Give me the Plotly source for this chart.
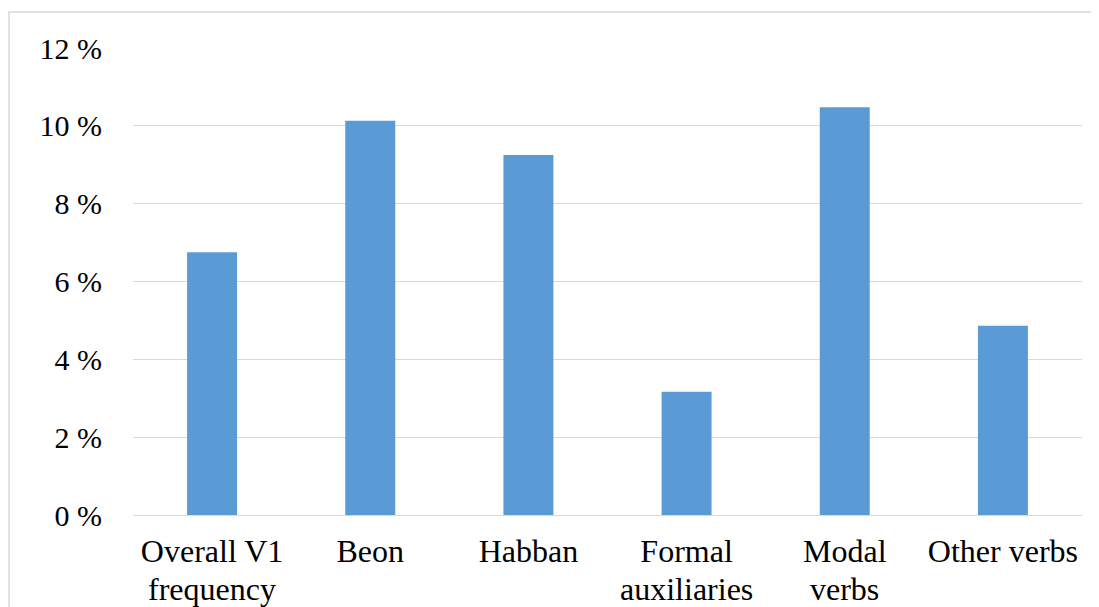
import plotly.graph_objects as go

categories = ["Overall V1<br>frequency", "Beon", "Habban", "Formal<br>auxiliaries", "Modal<br>verbs", "Other verbs"]
values = [6.75, 10.13, 9.25, 3.17, 10.48, 4.86]
y_ticks = [0, 2, 4, 6, 8, 10, 12]

# page body has an 8px margin, so the figure is drawn 8px smaller and offset
OFF = 8
W, H = 1099 - OFF, 607 - OFF
L, R, T, B = 133 - OFF, 17, 48 - OFF, 92
pw = W - L - R
ph = H - T - B

first_lines = [c.split("<br>")[0] for c in categories]
second_lines = [c.split("<br>")[1] if "<br>" in c else "" for c in categories]

fig = go.Figure(go.Bar(x=categories, y=values, marker_color="#5B9BD5", marker_line_width=0))

font = dict(family="Liberation Serif, Times New Roman, serif", size=31, color="#000000")

annotations = [
    dict(x=c, y=-74 / ph, xref="x", yref="paper", text=s, showarrow=False,
         xanchor="center", yanchor="middle", font=dict(size=32))
    for c, s in zip(categories, second_lines) if s
]

fig.update_layout(
    width=W, height=H,
    margin=dict(l=L, r=R, t=T, b=B, autoexpand=False),
    paper_bgcolor="white", plot_bgcolor="white",
    bargap=0.684,
    font=font,
    showlegend=False,
    annotations=annotations,
    shapes=[dict(type="rect", xref="paper", yref="paper",
                 x0=(9 - OFF - L) / pw, x1=(W + 20 - L) / pw,
                 y0=(H - T - 700) / ph, y1=(H - B - (12 - OFF)) / ph,
                 line=dict(color="#d9d9d9", width=1.5), fillcolor="rgba(0,0,0,0)", layer="below")],
)
fig.update_yaxes(range=[0, 12], tickvals=y_ticks, ticktext=[f"{v} %" for v in y_ticks],
                 showgrid=True, gridcolor="#d9d9d9", gridwidth=1, zeroline=False,
                 showline=False, ticks="", ticklabelstandoff=30, fixedrange=True,
                 automargin=False, tickfont=dict(size=30))
fig.update_xaxes(showline=True, linecolor="#d9d9d9", linewidth=1, ticks="",
                 tickvals=categories, ticktext=first_lines,
                 ticklabelstandoff=8, showgrid=False, tickangle=0,
                 automargin=False, tickfont=dict(size=32))

fig.write_html("out.html")
